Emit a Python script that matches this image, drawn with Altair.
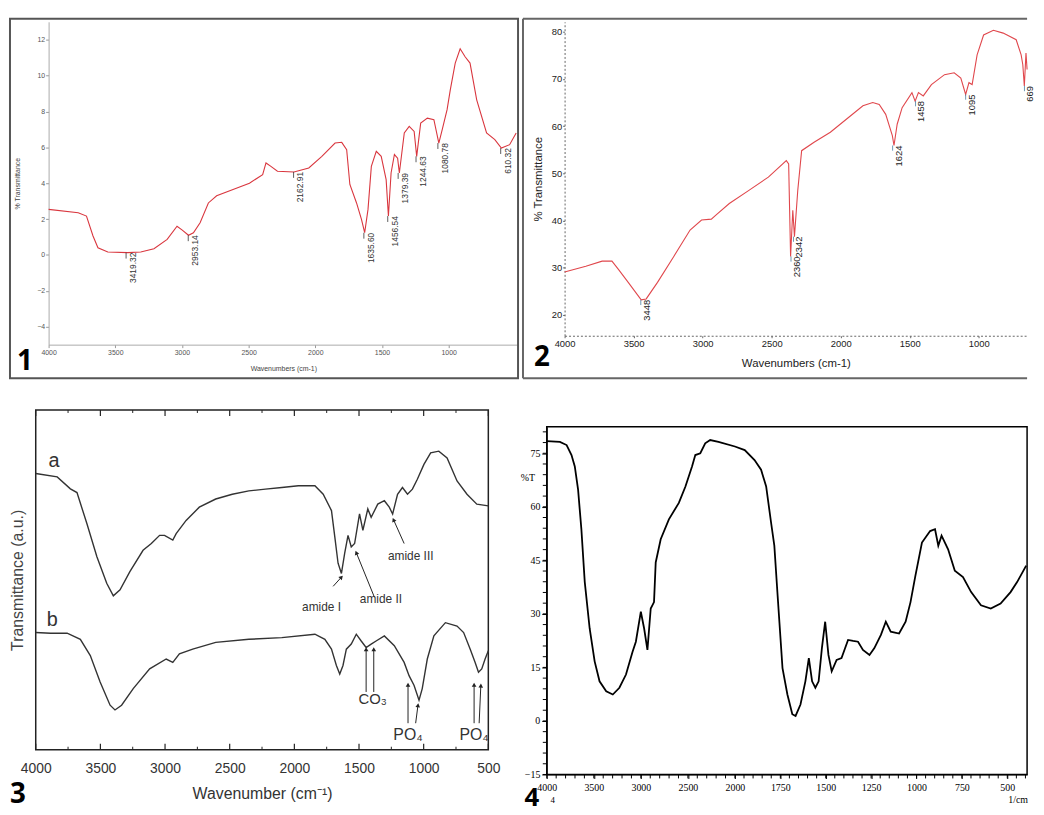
import math
import altair as alt
import pandas as pd

# ---------------- Panel 1 (red FTIR, small gray axes) ----------------
p1_wn = [4000, 3778, 3716, 3667, 3630, 3556, 3407, 3309, 3210, 3111, 3037, 3000, 2951, 2914, 2864,
         2802, 2740, 2617, 2494, 2395, 2370, 2333, 2284, 2160, 2049, 1951, 1852, 1802, 1765, 1741,
         1691, 1654, 1630, 1605, 1580, 1543, 1506, 1469, 1452, 1432, 1407, 1383, 1370, 1333, 1296,
         1259, 1240, 1210, 1160, 1111, 1074, 1049, 1012, 988, 951, 914, 877, 840, 790, 716, 654,
         605, 543, 494]
p1_t = [2.54, 2.35, 2.17, 1.06, 0.4, 0.17, 0.13, 0.17, 0.35, 0.87, 1.6, 1.4, 1.1, 1.24, 1.8,
        2.9, 3.3, 3.65, 4.0, 4.48, 5.13, 4.94, 4.67, 4.63, 4.85, 5.5, 6.24, 6.28, 5.87, 3.93,
        2.9, 1.98, 1.24, 2.54, 4.94, 5.78, 5.5, 4.2, 2.17, 4.57, 5.6, 5.4, 4.57, 6.8, 7.17,
        6.89, 5.5, 7.35, 7.63, 7.54, 6.24, 6.98, 8.1, 9.2, 10.7, 11.5, 11.05, 10.7, 8.65, 6.8, 6.43,
        5.96, 6.15, 6.8]
p1_peak_wn = [3419, 2953, 2163, 1636, 1457, 1379, 1245, 1081, 610]
p1_peak_t = [0.13, 1.1, 4.63, 1.24, 2.17, 4.57, 5.5, 6.24, 5.96]
p1_peak_lbl = ["3419.32", "2953.14", "2162.91", "1635.60", "1456.54", "1379.39", "1244.63",
               "1080.78", "610.32"]
p1_xticks = [4000, 3500, 3000, 2500, 2000, 1500, 1000]
p1_yticks = [-4, -2, 0, 2, 4, 6, 8, 10, 12]

# ---------------- Panel 2 (red FTIR, dotted axes) ----------------
p2_wn = [4000, 3846, 3728, 3657, 3610, 3539, 3445, 3409, 3327, 3209, 3091, 3008, 2937, 2902, 2807,
         2665, 2524, 2394, 2377, 2363, 2347, 2335, 2311, 2283, 2193, 2075, 1957, 1839, 1768, 1721,
         1674, 1626, 1614, 1591, 1555, 1484, 1461, 1437, 1402, 1343, 1248, 1178, 1130, 1095, 1071,
         1048, 1012, 965, 894, 823, 729, 693, 681, 670, 658, 650]
p2_t = [29.1, 30.3, 31.4, 31.4, 29.65, 26.9, 23.2, 23.4, 26.9, 32.4, 38, 40.1, 40.3, 41.2, 43.6,
        46.4, 49.2, 52.7, 52, 32.4, 42.2, 36.6, 46.4, 54.8, 56.6, 58.7, 61.5, 64.3, 65, 64.6,
        62.5, 58, 55.9, 60.4, 63.9, 67.1, 65.3, 67.1, 66.4, 68.8, 70.9, 71.3, 70.2, 66.7, 69.2,
        68.8, 75.1, 79.3, 80.3, 79.7, 78.3, 75.1, 73, 68.5, 75.5, 72]
p2_peak_wn = [3448, 2360, 2342, 1624, 1458, 1095, 669]
p2_peak_t = [23.2, 32.4, 36.6, 55.9, 65.3, 66.7, 68.5]
p2_peak_lbl = ["3448", "2360", "2342", "1624", "1458", "1095", "669"]
p2_xticks = [4000, 3500, 3000, 2500, 2000, 1500, 1000]
p2_yticks = [20, 30, 40, 50, 60, 70, 80]

# ---------------- Panel 3 (two traces a, b) ----------------
p3a_wn = [4000, 3834, 3732, 3681, 3604, 3527, 3451, 3400, 3348, 3272, 3170, 3106, 3042, 3004, 2940,
          2914, 2837, 2735, 2608, 2480, 2352, 2224, 2097, 1969, 1841, 1777, 1713, 1687, 1662, 1636,
          1611, 1585, 1560, 1534, 1496, 1470, 1432, 1406, 1355, 1304, 1266, 1240, 1202, 1164, 1125,
          1087, 1049, 998, 946, 883, 819, 742, 665, 589, 500]
p3a_t = [81.3, 80.3, 76.8, 75.7, 66.5, 56.8, 49.0, 45.3, 47.1, 52.4, 58.7, 60.7, 63.1, 63.1, 61.7,
         63.6, 67.5, 71.4, 73.8, 75.2, 76.2, 76.7, 77.2, 77.7, 77.7, 75.2, 70.4, 62.6, 54.9, 51.9,
         57.8, 63.1, 59.7, 60.7, 69.4, 64.6, 70.9, 68.4, 72.3, 73.3, 71.4, 69.4, 75.2, 77.2, 75.2,
         76.7, 79.6, 84.0, 87.4, 87.9, 85.9, 79.1, 75.2, 72.3, 71.8]
p3b_wn = [4000, 3885, 3757, 3655, 3578, 3502, 3425, 3387, 3336, 3246, 3119, 2991, 2940, 2889, 2786,
          2608, 2352, 2097, 1841, 1764, 1713, 1675, 1649, 1624, 1598, 1560, 1521, 1483, 1445, 1406,
          1368, 1304, 1227, 1151, 1113, 1074, 1036, 1011, 972, 921, 832, 742, 691, 640, 602,
          576, 551, 525, 500]
p3b_t = [34.5, 34.3, 34.3, 32.5, 27.7, 19.9, 13.1, 11.7, 13.1, 18.0, 23.8, 26.7, 25.7, 28.2, 29.6,
         31.6, 32.5, 33.0, 34.0, 32.5, 29.6, 24.8, 22.3, 24.8, 29.6, 31.1, 34.0, 32.0, 30.1, 31.1,
         32.0, 33.5, 30.6, 25.7, 21.8, 18.9, 14.6, 18.0, 26.7, 33.5, 37.4, 36.4, 34.5, 29.6, 25.7,
         22.8, 23.8, 26.7, 29.1]
p3_text = ["a", "b", "amide I", "amide II", "amide III", "CO\u2083", "PO\u2084", "PO\u2084"]
p3_text_wn = [3859, 3872, 1790, 1330, 1100, 1394, 1121, 610]
p3_text_t = [85.0, 38.3, 42.0, 44.4, 57.0, 15.0, 4.4, 4.4]
p3_text_size = [20, 20, 12, 12, 12, 15, 16, 16]
p3_arrow_wn = [1700, 1381, 1151, 1445, 1386, 1121, 1062, 610, 571]
p3_arrow_t = [48.1, 44.9, 60.7, 17.0, 17.0, 7.8, 7.8, 7.8, 7.8]
p3_arrow_wn2 = [1636, 1521, 1233, 1445, 1386, 1121, 1044, 610, 558]
p3_arrow_t2 = [50.8, 58.0, 67.7, 29.6, 29.6, 19.1, 13.1, 19.1, 18.9]
p3_major = [4000, 3500, 3000, 2500, 2000, 1500, 1000, 500]
p3_minor = [3750, 3250, 2750, 2250, 1750, 1250, 750]

# ---------------- Panel 4 (black, %T, split wavenumber scale) ----------------
p4_wn = [4000, 3860, 3789, 3737, 3702, 3667, 3632, 3596, 3544, 3491, 3439, 3368, 3298, 3228, 3158,
         3088, 3053, 3000, 2965, 2930, 2895, 2860, 2842, 2789, 2702, 2596, 2526, 2456, 2421, 2368,
         2316, 2263, 2175, 2000, 1946, 1892, 1856, 1828, 1801, 1783, 1765, 1738, 1711, 1684, 1666,
         1639, 1612, 1593, 1575, 1557, 1539, 1521, 1503, 1485, 1467, 1440, 1413, 1377, 1349, 1322,
         1295, 1259, 1232, 1196, 1169, 1142, 1096, 1060, 1033, 1006, 970, 925, 898, 880, 862,
         826, 789, 744, 699, 645, 591, 537, 482, 446, 396]
p4_t = [78.4, 78.2, 77.3, 74.5, 71.3, 64.8, 53.7, 38.9, 25.9, 16.7, 11.1, 8.3, 7.4, 9.3, 13,
        19.4, 22.2, 30.6, 25.9, 19.9, 31.5, 33.3, 44.4, 50.9, 56.5, 61.1, 65.7, 71.3, 74.5, 75,
        77.8, 78.7, 78.2, 76.9, 75.9, 73.1, 70.4, 65.7, 55.6, 49.1, 35.2, 14.8, 7.4, 1.9, 1.4,
        4.6, 11.1, 17.6, 11.1, 9.3, 11.1, 20.4, 27.8, 18.5, 13.9, 17.1, 17.6, 22.7, 22.4, 22.2,
        19.9, 18.5, 20.4, 24.1, 27.8, 25, 24.5, 27.8, 33.3, 40.7, 50, 53.2, 53.7, 49.1, 51.9,
        48.1, 42.1, 40.3, 36.1, 32.4, 31.5, 32.9, 36.1, 38.9, 43.5]
p4_xlabels = [4000, 3500, 3000, 2500, 2000, 1750, 1500, 1250, 1000, 750, 500]
p4_ylabels = [-15, 0, 15, 30, 45, 60, 75]
p4_xminor = list(range(4000, 1999, -100)) + list(range(1950, 399, -50))
p4_yminor = list(range(-15, 82, 3))

one = pd.DataFrame({"k": [0]})


def frame_rect(x0, x1, y0, y1, color, width):
    return alt.Chart(one).mark_rect(fill="transparent", stroke=color, strokeWidth=width).encode(
        x=alt.value(x0), x2=alt.value(x1), y=alt.value(y0), y2=alt.value(y1))


def hline(x0, x1, y, color, width):
    return alt.Chart(one).mark_rule(color=color, strokeWidth=width).encode(
        x=alt.value(x0), x2=alt.value(x1), y=alt.value(y))


def vline(x, y0, y1, color, width):
    return alt.Chart(one).mark_rule(color=color, strokeWidth=width).encode(
        x=alt.value(x), y=alt.value(y0), y2=alt.value(y1))


def number(txt, x, y, size=28):
    return alt.Chart(one).mark_text(text=txt, font="Open Sans", fontSize=size, fontWeight="bold",
                                    color="black", align="center", baseline="alphabetic").encode(
        x=alt.value(x), y=alt.value(y))


# ---------------- Panel 1 ----------------
OFF1 = 13
W1, H1 = 474 + OFF1, 326
x1 = alt.X("wn:Q", scale=alt.Scale(domain=[4000, 480], range=[OFF1, W1], nice=False, zero=False),
           axis=alt.Axis(values=p1_xticks, format="d", title="Wavenumbers (cm-1)", labelFontSize=7,
                         labelColor="#555", titleFontSize=7, titleFontWeight="normal",
                         titleColor="#444", tickSize=3, tickColor="#999", domainColor="#aaa",
                         labelPadding=1, titlePadding=9, grid=False, labelFlush=False))
y1 = alt.Y("t:Q", scale=alt.Scale(domain=[-5, 13], nice=False, zero=False),
           axis=alt.Axis(values=p1_yticks, format="d", title="% Transmittance", labelFontSize=7,
                         labelColor="#555", titleFontSize=7, titleFontWeight="normal",
                         titleColor="#444", tickSize=3, tickColor="#999", domainColor="#aaa",
                         labelPadding=1, titlePadding=16, grid=False, offset=-OFF1))
df1 = pd.DataFrame({"wn": p1_wn, "t": p1_t, "i": range(len(p1_wn))})
pk1 = pd.DataFrame({"wn": p1_peak_wn, "t": p1_peak_t, "lbl": p1_peak_lbl})
p1 = alt.layer(
    frame_rect(-26, W1, -3, 360, "#555", 2),
    alt.Chart(df1).mark_line(color="#d9363e", strokeWidth=1.1).encode(x=x1, y=y1, order="i:Q"),
    alt.Chart(pk1).transform_calculate(t2="datum.t - 0.33").mark_rule(color="#333", strokeWidth=0.8)
    .encode(x=x1, y=y1, y2="t2:Q"),
    alt.Chart(pk1).mark_text(angle=270, align="right", baseline="middle", dy=7, fontSize=8.5,
                             color="#333").encode(x=x1, y=y1, text="lbl:N"),
    number("1", -11, 352),
).properties(width=W1, height=H1, view=alt.ViewBackground(stroke="transparent"))

# ---------------- Panel 2 ----------------
W2, H2 = 467, 317
x2 = alt.X("wn:Q", scale=alt.Scale(domain=[4000, 650], nice=False, zero=False),
           axis=alt.Axis(values=p2_xticks, format="d", title="Wavenumbers (cm-1)", labelFontSize=9.5,
                         labelColor="#222", titleFontSize=11.5, titleFontWeight="normal",
                         titleColor="#222", tickSize=2, tickColor="#666", domainColor="#666",
                         domainDash=[2, 2], labelPadding=1, titlePadding=10, grid=False,
                         labelFlush=False))
y2 = alt.Y("t:Q", scale=alt.Scale(domain=[15.6, 82.1], nice=False, zero=False),
           axis=alt.Axis(values=p2_yticks, format="d", title="% Transmittance", labelFontSize=9.5,
                         labelColor="#222", titleFontSize=11.5, titleFontWeight="normal",
                         titleColor="#222", tickSize=2, tickColor="#666", domainColor="#666",
                         domainDash=[2, 2], labelPadding=1, titlePadding=8, grid=False))
df2 = pd.DataFrame({"wn": p2_wn, "t": p2_t, "i": range(len(p2_wn))})
pk2 = pd.DataFrame({"wn": p2_peak_wn, "t": p2_peak_t, "lbl": p2_peak_lbl})
p2 = alt.layer(
    hline(-42, W2, -3, "#666", 2),
    hline(-42, W2, 360, "#666", 2),
    vline(-42, -3, 360, "#666", 2),
    alt.Chart(df2).mark_line(color="#e0474c", strokeWidth=1.1).encode(x=x2, y=y2, order="i:Q"),
    alt.Chart(pk2).transform_calculate(t2="datum.t - 1.1").mark_rule(color="#4a7fa0", strokeWidth=0.8)
    .encode(x=x2, y=y2, y2="t2:Q"),
    alt.Chart(pk2).mark_text(angle=270, align="right", baseline="middle", dy=6, fontSize=9.5,
                             color="#222").encode(x=x2, y=y2, text="lbl:N"),
    number("2", -23, 348),
).properties(width=W2, height=H2, view=alt.ViewBackground(stroke="transparent"))

# ---------------- Panel 3 ----------------
W3, H3 = 457, 343
x3 = alt.X("wn:Q", scale=alt.Scale(domain=[4000, 500], nice=False, zero=False),
           axis=alt.Axis(values=p3_major, format="d", title="Wavenumber (cm\u207b\u00b9)",
                         labelFontSize=14, labelColor="#333", titleFontSize=16,
                         titleFontWeight="normal", titleColor="#333", ticks=False, domain=False,
                         labelPadding=12, titlePadding=10, grid=False, labelFlush=False))
y3 = alt.Y("t:Q", scale=alt.Scale(domain=[0, 100], nice=False, zero=False),
           axis=alt.Axis(title="Transmittance (a.u.)", labels=False, ticks=False, domain=False,
                         titleFontSize=16, titleFontWeight="normal", titleColor="#444",
                         titlePadding=10, grid=False))
dfa = pd.DataFrame({"wn": p3a_wn, "t": p3a_t, "i": range(len(p3a_wn))})
dfb = pd.DataFrame({"wn": p3b_wn, "t": p3b_t, "i": range(len(p3b_wn))})
txt3 = pd.DataFrame({"wn": p3_text_wn, "t": p3_text_t, "lbl": p3_text, "fs": p3_text_size})
px_per_wn3 = W3 / 3500.0
px_per_t3 = H3 / 100.0
angs = []
for a0, b0, a1, b1 in zip(p3_arrow_wn, p3_arrow_t, p3_arrow_wn2, p3_arrow_t2):
    sx = -(a1 - a0) * px_per_wn3
    sy = -(b1 - b0) * px_per_t3
    angs.append(math.degrees(math.atan2(sx, -sy)) % 360)
arr3 = pd.DataFrame({"wn": p3_arrow_wn, "t": p3_arrow_t, "wn2": p3_arrow_wn2, "t2": p3_arrow_t2})
head3 = pd.DataFrame({"wn": p3_arrow_wn2, "t": p3_arrow_t2, "ang": angs})
tick_major = pd.DataFrame({"wn": p3_major})
tick_minor = pd.DataFrame({"wn": p3_minor})
p3 = alt.layer(
    frame_rect(-27, W3 + 16, -5, 399, "transparent", 0),
    alt.Chart(tick_major).mark_rule(color="#222", strokeWidth=1.2).encode(
        x=x3, y=alt.value(H3), y2=alt.value(H3 - 6)),
    alt.Chart(tick_major).mark_rule(color="#222", strokeWidth=1.2).encode(
        x=x3, y=alt.value(0), y2=alt.value(6)),
    alt.Chart(tick_minor).mark_rule(color="#222", strokeWidth=1).encode(
        x=x3, y=alt.value(H3), y2=alt.value(H3 - 3)),
    alt.Chart(tick_minor).mark_rule(color="#222", strokeWidth=1).encode(
        x=x3, y=alt.value(0), y2=alt.value(3)),
    alt.Chart(dfa).mark_line(color="#333", strokeWidth=1.4).encode(x=x3, y=y3, order="i:Q"),
    alt.Chart(dfb).mark_line(color="#333", strokeWidth=1.4).encode(x=x3, y=y3, order="i:Q"),
    alt.Chart(arr3).mark_rule(color="#222", strokeWidth=1).encode(x=x3, y=y3, x2="wn2:Q", y2="t2:Q"),
    alt.Chart(head3).mark_point(shape="triangle-up", filled=True, size=22, color="#222", opacity=1)
    .encode(x=x3, y=y3, angle=alt.Angle("ang:Q", scale=None)),
    alt.Chart(txt3).mark_text(color="#333", align="center", baseline="middle").encode(
        x=x3, y=y3, text="lbl:N", size=alt.Size("fs:Q", scale=None)),
    number("3", -18, 397),
).properties(width=W3, height=H3, view=alt.ViewBackground(stroke="#222", strokeWidth=1.5))

# ---------------- Panel 4 ----------------
W4, H4 = 485, 368
x4 = alt.X("wn:Q", scale=alt.Scale(domain=[4000, 2000, 391], range=[0, 190, W4], nice=False,
                                   zero=False),
           axis=alt.Axis(values=p4_xlabels, format="d", title=None,
                         labelFont="Liberation Serif", labelFontSize=10, labelColor="black",
                         tickSize=4, tickColor="black", domainColor="black", labelPadding=4,
                         labelFlush=False, labelOverlap=False, grid=False))
y4 = alt.Y("t:Q", scale=alt.Scale(domain=[-15, 82.4], range=[H4, 17], nice=False, zero=False),
           axis=alt.Axis(values=p4_ylabels, format="d", title=None,
                         labelFont="Liberation Serif", labelFontSize=10, labelColor="black",
                         tickSize=5, tickColor="black", domainColor="black", labelPadding=2,
                         labelOverlap=False, grid=False))
df4 = pd.DataFrame({"wn": p4_wn, "t": p4_t, "i": range(len(p4_wn))})
xminor4 = pd.DataFrame({"wn": p4_xminor})
yminor4 = pd.DataFrame({"t": p4_yminor})
p4 = alt.layer(
    frame_rect(-26, W4 + 1, -5, 399, "transparent", 0),
    alt.Chart(one).mark_rect(fill="transparent", stroke="black", strokeWidth=1.5).encode(
        x=alt.datum(4000), x2=alt.datum(391), y=alt.datum(-15), y2=alt.datum(82.4)),
    alt.Chart(xminor4).mark_rule(color="black", strokeWidth=1).encode(
        x=x4, y=alt.value(H4), y2=alt.value(H4 + 4)),
    alt.Chart(yminor4).mark_rule(color="black", strokeWidth=1).encode(
        y=y4, x=alt.value(0), x2=alt.value(-4)),
    alt.Chart(df4).mark_line(color="black", strokeWidth=1.8).encode(x=x4, y=y4, order="i:Q"),
    alt.Chart(one).mark_text(text="%T", font="Liberation Serif", fontSize=10, color="black")
    .encode(x=alt.value(-19), y=alt.datum(68)),
    alt.Chart(one).mark_text(text="4", font="Liberation Serif", fontSize=9, color="black")
    .encode(x=alt.value(6), y=alt.value(394)),
    alt.Chart(one).mark_text(text="1/cm", font="Liberation Serif", fontSize=10, color="black")
    .encode(x=alt.value(476), y=alt.value(394)),
    number("4", -15, 400, 26),
).properties(width=W4, height=H4, view=alt.ViewBackground(stroke="transparent"))

row1 = alt.hconcat(p1, p2, spacing=1)
row2 = alt.hconcat(p3, p4, spacing=15)
chart = alt.vconcat(row1, row2, spacing=24).properties(
    padding={"left": 0, "top": 5, "right": 0, "bottom": 0},
    background="white",
).configure(font="Liberation Sans").configure_view(stroke="transparent")

chart.save("out.html", embed_options={"renderer": "svg", "actions": False})
